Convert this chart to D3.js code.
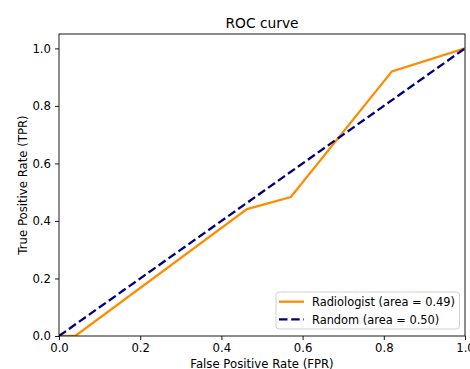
<!doctype html>
<html>
<head>
<meta charset="utf-8">
<style>
body { margin: 0; background: white; }
svg text { font-family: "DejaVu Sans", sans-serif; fill: #000; }
</style>
<script src="https://cdnjs.cloudflare.com/ajax/libs/d3/7.8.5/d3.min.js"></script>
</head>
<body>
<div id="chart"></div>
<script>
// ROC data
var fpr = [0.0, 0.04, 0.463, 0.571, 0.82, 1.0];
var tpr = [0.0, 0.0, 0.441, 0.483, 0.92, 1.0];
var randomX = [0, 1];
var randomY = [0, 1];
var tickValues = [0, 0.2, 0.4, 0.6, 0.8, 1.0];
var legendLabels = ["Radiologist (area = 0.49)", "Random (area = 0.50)"];

var width = 470, height = 369;
var margin = {left: 59, right: 5, top: 34, bottom: 33};
var fs = "11.7px";
var dash = "8.5,3.7";

var svg = d3.select("#chart").append("svg")
	.attr("width", width)
	.attr("height", height);

var x = d3.scaleLinear().domain([0, 1]).range([margin.left, width - margin.right]);
var y = d3.scaleLinear().domain([0, 1.05]).range([height - margin.bottom, margin.top]);

var line = d3.line()
	.x(function(d) { return x(d[0]); })
	.y(function(d) { return y(d[1]); });

// clip to axes area
svg.append("clipPath").attr("id", "clip")
	.append("rect")
	.attr("x", x(0)).attr("y", y(1.05))
	.attr("width", x(1) - x(0)).attr("height", y(0) - y(1.05));

var plot = svg.append("g").attr("clip-path", "url(#clip)");

plot.append("path")
	.datum(d3.zip(fpr, tpr))
	.attr("d", line)
	.attr("fill", "none")
	.attr("stroke", "darkorange")
	.attr("stroke-width", 2.3);

plot.append("path")
	.datum(d3.zip(randomX, randomY))
	.attr("d", line)
	.attr("fill", "none")
	.attr("stroke", "navy")
	.attr("stroke-width", 2.3)
	.attr("stroke-dasharray", dash);

// axes
var xAxis = svg.append("g")
	.attr("transform", "translate(0," + y(0) + ")")
	.call(d3.axisBottom(x).tickValues(tickValues).tickFormat(d3.format(".1f")).tickSize(4).tickPadding(4));
var yAxis = svg.append("g")
	.attr("transform", "translate(" + x(0) + ",0)")
	.call(d3.axisLeft(y).tickValues(tickValues).tickFormat(d3.format(".1f")).tickSize(4).tickPadding(4));

[xAxis, yAxis].forEach(function(a) {
	a.select(".domain").remove();
	a.selectAll("text").attr("font-size", fs).attr("font-family", "DejaVu Sans");
	a.selectAll("line").attr("stroke", "#000").attr("stroke-width", 0.9);
});

// frame
svg.append("rect")
	.attr("x", x(0)).attr("y", y(1.05))
	.attr("width", x(1) - x(0)).attr("height", y(0) - y(1.05))
	.attr("fill", "none").attr("stroke", "#000").attr("stroke-width", 0.9);

// labels
svg.append("text")
	.attr("x", (x(0) + x(1)) / 2).attr("y", 27.5)
	.attr("text-anchor", "middle").attr("font-size", "13.8px")
	.text("ROC curve");
svg.append("text")
	.attr("x", (x(0) + x(1)) / 2).attr("y", 367.5)
	.attr("text-anchor", "middle").attr("font-size", fs)
	.text("False Positive Rate (FPR)");
svg.append("text")
	.attr("transform", "translate(26.5," + ((y(0) + y(1.05)) / 2) + ") rotate(-90)")
	.attr("text-anchor", "middle").attr("font-size", fs)
	.text("True Positive Rate (TPR)");

// legend
var lg = svg.append("g");
lg.append("rect")
	.attr("x", 276).attr("y", 292).attr("width", 183.5).attr("height", 37)
	.attr("rx", 3).attr("fill", "white").attr("fill-opacity", 0.8)
	.attr("stroke", "#ccc").attr("stroke-width", 0.9);
var colors = ["darkorange", "navy"];
var dashes = [null, dash];
legendLabels.forEach(function(t, i) {
	var ly = 301.7 + i * 17.6;
	lg.append("line")
		.attr("x1", 279).attr("x2", 304).attr("y1", ly).attr("y2", ly)
		.attr("stroke", colors[i]).attr("stroke-width", 2.3)
		.attr("stroke-dasharray", dashes[i]);
	lg.append("text")
		.attr("x", 312).attr("y", ly + 4.2)
		.attr("font-size", "11.4px")
		.text(t);
});
</script>
</body>
</html>
